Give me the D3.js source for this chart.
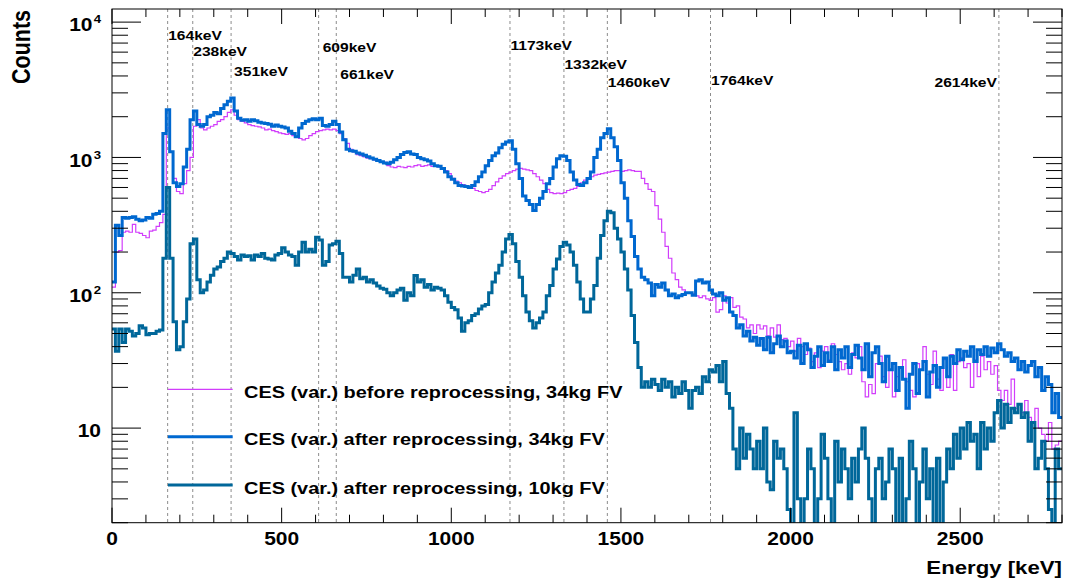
<!DOCTYPE html>
<html><head><meta charset="utf-8">
<script src="https://cdn.jsdelivr.net/npm/d3@7"></script>
<style>body{margin:0;background:#fff;} text{font-family:"Liberation Sans",Arial,Helvetica,sans-serif;font-weight:bold;fill:#000;}</style>
</head><body>
<script>
// Bin width 10 keV, bins start at 0 keV
const binWidth = 10;
const before34 = [
110,200,205,280,285,280,320,280,275,265,
255,285,290,310,330,380,1650,1100,700,560,
540,640,800,1000,1700,1900,1650,1600,1650,1700,
1750,1850,1900,2000,2150,2250,2050,1900,1850,1800,
1750,1720,1700,1680,1650,1600,1620,1580,1550,1520,
1500,1480,1500,1450,1420,1380,1350,1380,1450,1500,
1550,1580,1600,1620,1600,1620,1580,1500,1380,1270,
1150,1100,1050,1030,1010,990,980,960,940,930,
920,870,850,840,860,850,840,860,850,870,
880,860,870,880,860,870,850,830,800,760,
700,670,650,630,610,600,590,570,560,550,
560,580,620,660,700,730,760,780,800,820,
830,820,810,800,760,720,680,640,580,550,
540,545,540,550,570,580,590,610,650,680,
700,720,740,750,760,770,780,790,800,800,
790,800,810,800,790,790,700,640,580,560,
440,350,280,220,180,140,125,110,105,100,
100,98,95,92,95,90,88,92,72,75,
95,84,92,78,80,66,64,55,58,50,
58,54,57,48,55,47,58,45,46,40,
44,37,46,40,35,39,31,36,28,37,
40,32,42,35,31,27,30,25,36,33,
40,22,17,21,18,30,34,24,20,27,
17,24,28,32,22,19,17,30,27,40,
25,21,37,23,19,32,20,35,19,31,
33,28,30,20,32,24,34,27,31,25,
29,19,16,19,15,23,14,15,13,16,
12,11,14,10,9,8,11,7,7.5,8];
const after34 = [
120,315,265,360,355,360,365,350,340,345,
360,355,380,385,400,1500,2250,1100,650,610,
640,850,1150,1900,2200,1750,1700,1750,2000,2050,
2150,2100,2300,2450,2600,2750,2200,1950,1880,1900,
1850,1900,1870,1820,1800,1780,1760,1700,1740,1700,
1680,1650,1560,1500,1420,1650,1780,1850,1900,1930,
1900,1950,1720,1700,1750,1850,1750,1540,1350,1150,
1120,1110,1080,1060,1040,1010,990,970,950,930,
910,900,920,960,1000,1050,1090,1100,1060,1050,
1000,980,960,940,900,870,860,830,780,720,
690,650,620,615,610,600,620,660,720,780,
870,950,1030,1080,1180,1250,1300,1330,1150,900,
700,520,480,450,405,450,500,560,640,700,
850,980,1030,1020,950,780,680,630,620,650,
700,780,1000,1150,1400,1500,1630,1400,1200,950,
650,500,340,260,185,150,130,125,118,95,
115,110,118,105,95,98,92,95,97,100,
100,96,122,125,118,120,105,98,95,100,
88,92,72,68,55,58,48,52,44,47,
41,46,38,47,36,42,48,40,44,36,
37,33,41,30,42,38,28,34,40,29,
36,31,40,27,38,33,40,28,35,41,
33,27,42,24,36,40,30,22,34,27,
30,19,28,23,14,25,30,18,27,31,
17,26,29,20,28,33,24,34,30,38,
32,37,34,40,31,38,35,40,34,39,
36,42,38,34,36,31,33,27,31,26,
29,31,24,28,19,24,21,13,18,12];
const after10 = [
54,37,54,43,54,52,48,50,57,55,
49,50,50,52,53,180,600,180,61,38,
40,61,90,230,250,125,100,105,120,135,
150,155,170,180,200,195,185,175,190,185,
188,175,190,185,195,180,178,175,190,195,
215,200,190,185,160,200,236,200,210,200,
257,245,160,170,225,230,240,195,130,130,
120,135,150,127,130,120,125,118,112,108,
106,100,95,100,105,108,88,100,95,134,
120,125,110,115,105,110,108,105,95,85,
78,75,65,52,60,62,68,70,76,80,
82,100,120,140,160,200,250,270,230,170,
130,95,72,62,55,60,65,72,95,113,
150,178,220,236,225,200,160,120,90,72,
72,90,113,180,265,340,400,390,300,250,
200,150,105,68,43,28,20,22,20,23,
21,19,23,20,22,17,20,18,22,19,
14,19,20,18,24,22,27,26,29,22,
31,18,14,7,5,10,6,9,7,5,
8,5,10,4,3.5,8,6,7,5,2.5,
1,13,3,1,3,7,5,1,3,9,
6,3,1,8,4,7,5,3,6,4,
7,10,6,3,1,5,6,3,4,7,
5,1,6,1,3,8,5,1,4,7,
3,5,1,6,1,4,7,5,9,6,
10,7,11,8,9,5,11,7,10,8,
13,16,10,15,11,14,13,15,12,13,
8,11,5,6,8,5,2.5,1,7,5];
const seriesNames = ["CES (var.) before reprocessing, 34kg FV","CES (var.) after reprocessing, 34kg FV","CES (var.) after reprocessing, 10kg FV"];
const seriesColors = ["#d13dfb","#0068d0","#00679a"];
const seriesWidths = [1.2,3,3];
const lineEnergies = [164,238,351,609,661,1173,1332,1460,1764,2614];
const lineLabels = ["164keV","238keV","351keV","609keV","661keV","1173keV","1332keV","1460keV","1764keV","2614keV"];
const labelY = [40,55.5,75.5,52,79,49.5,69,86.5,85,87];
const xMajor = [0,500,1000,1500,2000,2500];
const yMajor = [10,100,1000,10000];
const yMajorLabels = [["10",""],["10","2"],["10","3"],["10","4"]];

const W=1066,H=582, L=112, R=1062, T=9, B=522.7, SX=1.2;
const svg = d3.select("body").append("svg").attr("width",W).attr("height",H);
const x = d3.scaleLinear().domain([0,2800]).range([L,R]);
const y = d3.scaleLog().domain([2,12500]).range([B,T]);

svg.append("clipPath").attr("id","clip").append("rect").attr("x",L).attr("y",T).attr("width",R-L).attr("height",B-T);

function txt(g,px,py,s,size,anchor){
  return g.append("text").attr("transform",`translate(${px},${py}) scale(${SX},1)`)
    .attr("text-anchor",anchor).style("font-size",size+"px").text(s);
}

// dashed energy lines
svg.append("g").selectAll("line").data(lineEnergies).join("line")
  .attr("x1",d=>x(d)).attr("x2",d=>x(d)).attr("y1",T).attr("y2",B)
  .attr("stroke","#8c8c8c").attr("stroke-width",1).attr("stroke-dasharray","3,3");

// histograms
const allSeries=[before34,after34,after10];
const line = d3.line().curve(d3.curveStepAfter).x(d=>x(d[0])).y(d=>y(Math.max(d[1],0.5)));
const hg = svg.append("g").attr("clip-path","url(#clip)");
allSeries.forEach((s,k)=>{
  const pts = s.map((v,i)=>[i*binWidth,v]);
  pts.push([s.length*binWidth, s[s.length-1]]);
  hg.append("path").attr("d",line(pts)).attr("fill","none")
    .attr("stroke",seriesColors[k]).attr("stroke-width",seriesWidths[k]).attr("stroke-linejoin","miter");
});

// frame
svg.append("rect").attr("x",L).attr("y",T).attr("width",R-L).attr("height",B-T)
  .attr("fill","none").attr("stroke","#000").attr("stroke-width",1);

// x ticks
const xMinor = d3.range(0,2801,100).filter(v=>v%500!==0);
const tg = svg.append("g").attr("stroke","#000").attr("stroke-width",1);
[[xMajor,15],[xMinor,8]].forEach(([arr,len])=>{
  arr.forEach(v=>{
    tg.append("line").attr("x1",x(v)).attr("x2",x(v)).attr("y1",B).attr("y2",B-len);
    tg.append("line").attr("x1",x(v)).attr("x2",x(v)).attr("y1",T).attr("y2",T+len);
  });
});
// y ticks
const yMinor=[];
[1,10,100,1000].forEach(d=>{for(let m=2;m<=9;m++){const v=m*d; if(v>=2 && v<=12500) yMinor.push(v);}});
[[yMajor,29],[yMinor,16]].forEach(([arr,len])=>{
  arr.forEach(v=>{
    tg.append("line").attr("x1",L).attr("x2",L+len).attr("y1",y(v)).attr("y2",y(v));
    tg.append("line").attr("x1",R).attr("x2",R-len).attr("y1",y(v)).attr("y2",y(v));
  });
});

// x tick labels
xMajor.forEach(v=>txt(svg,x(v),545,String(v),17.5,"middle"));
txt(svg,R,573.5,"Energy [keV]",18.5,"end");
// y tick labels
yMajor.forEach((v,i)=>{
  const t = svg.append("text").attr("transform",`translate(101,${y(v)+9.3}) scale(${SX},1)`)
    .attr("text-anchor","end").style("font-size","17.5px");
  t.append("tspan").text(yMajorLabels[i][0]);
  if(yMajorLabels[i][1]) t.append("tspan").attr("dy",-8).style("font-size","11px").attr("dx",1).text(yMajorLabels[i][1]);
});
svg.append("text").attr("transform",`translate(29.5,10) scale(${SX},1) rotate(-90)`)
  .attr("text-anchor","end").style("font-size","21.5px").text("Counts");

// energy labels
lineEnergies.forEach((e,i)=>{
  if(e===2614) txt(svg,x(e)-2,labelY[i],lineLabels[i],13,"end");
  else txt(svg,x(e)+(e>=600&&e<700?4:(e===351?3:0.5)),labelY[i],lineLabels[i],13,"start");
});

// legend
const legY=[389.3,436.7,485];
seriesNames.forEach((n,k)=>{
  svg.append("line").attr("x1",168).attr("x2",232.7).attr("y1",legY[k]).attr("y2",legY[k])
    .attr("stroke",seriesColors[k]).attr("stroke-width",seriesWidths[k]);
  txt(svg,244,legY[k]+8.7,n,16.6,"start");
});
</script>
</body></html>
